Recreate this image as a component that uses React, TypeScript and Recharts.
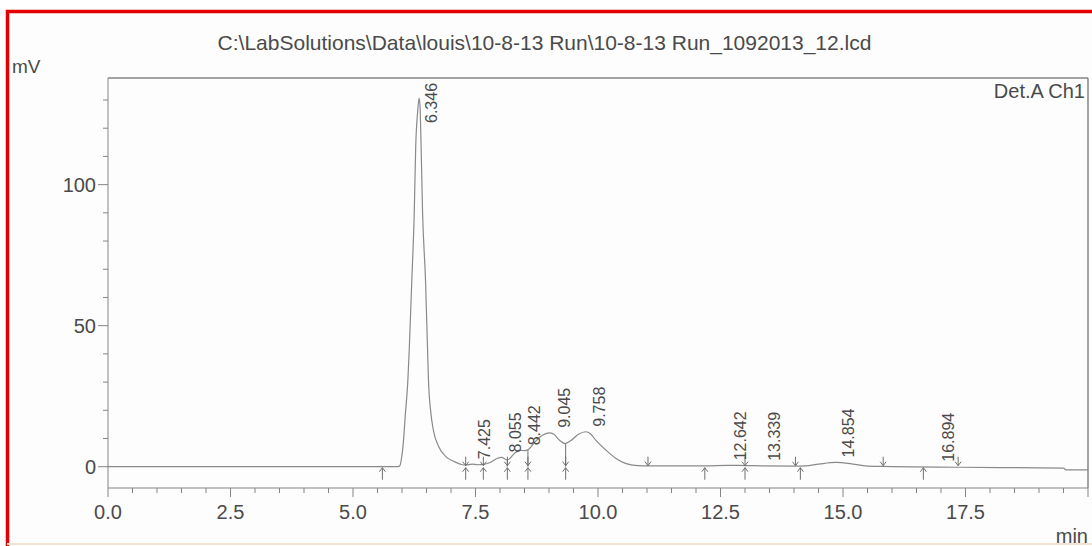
import { ComposedChart, Line, Scatter, XAxis, YAxis, ReferenceLine } from "recharts";

const TITLE = "C:\\LabSolutions\\Data\\louis\\10-8-13 Run\\10-8-13 Run_1092013_12.lcd";

// detector trace (min, mV)
const sigTimes = [
  0, 5.92, 5.96, 5.99, 6.02, 6.07, 6.12, 6.15, 6.2, 6.25, 6.28, 6.32, 6.35, 6.37, 6.39, 6.42, 6.48, 6.52,
  6.54, 6.59, 6.64, 6.75, 6.9, 7.07, 7.23, 7.3, 7.43, 7.55, 7.66, 7.8, 7.95, 8.03, 8.15, 8.3, 8.42, 8.5,
  8.57, 8.7, 8.85, 9.0, 9.1, 9.22, 9.33, 9.45, 9.6, 9.75, 9.85, 9.95, 10.16, 10.36, 10.56, 10.83, 11.0,
  12.2, 12.64, 13.0, 13.34, 14.0, 14.23, 14.5, 14.85, 15.15, 15.45, 15.8, 17.4, 19.5, 19.55, 20,
];
const sigValues = [
  0, 0, 0.5, 3.0, 7.1, 18.9, 30.7, 42.5, 66, 90, 113.5, 126, 130.7, 127, 113.5, 90, 66, 42.5,
  30.7, 18.9, 13.0, 7.1, 3.5, 1.8, 0.7, 0.6, 0.9, 0.7, 0.8, 1.5, 3.0, 3.3, 2.4, 4.8, 5.8, 5.7,
  6.0, 8.5, 11.0, 12.0, 11.5, 9.3, 8.2, 9.3, 11.5, 12.4, 11.6, 9.5, 5.9, 3.0, 1.2, 0.4, 0.3,
  0.3, 0.5, 0.4, 0.3, 0.2, 0.3, 0.9, 1.5, 1.1, 0.3, 0.1, -0.2, -0.5, -1.1, -1.1,
];

// retention time labels
const peakTimes = [6.346, 7.425, 8.055, 8.442, 9.045, 9.758, 12.642, 13.339, 14.854, 16.894];
const peakLevels = [130.7, 0.9, 3.3, 5.8, 12.0, 12.4, 0.5, 0.3, 1.5, 0];

// integration start/end marks on the baseline
const markTimes = [5.6, 7.3, 7.66, 8.15, 8.57, 9.34, 11.02, 12.18, 13.0, 14.03, 14.13, 15.82, 16.64, 17.35];
const markKinds = ["up", "both", "both", "both", "both", "both", "down", "up", "both", "down", "up", "down", "up", "down"];
const markLevels = [0, 0.6, 0.8, 2.4, 6.0, 8.2, 0.3, 0.3, 0.4, 0.2, 0.2, 0.1, 0, 0];

const xMajor = [0, 2.5, 5, 7.5, 10, 12.5, 15, 17.5];
const yMajor = [0, 50, 100];

const X_MAX = 20;
const Y_MIN = -7.55;
const Y_MAX = 137.8;
const PLOT_TOP = 78;

const xTicks = Array.from({ length: 41 }, (_, i) => i * 0.5);
const yTicks = Array.from({ length: 14 }, (_, i) => i * 10);

const signal = sigTimes.map((t, i) => ({ t, v: sigValues[i] }));
const peaks = peakTimes.map((t, i) => ({ t, v: peakLevels[i], label: t.toFixed(3) }));
const marks = markTimes.map((t, i) => ({ t, v: 0, kind: markKinds[i], level: markLevels[i] }));

const FONT = "'Liberation Sans', Arial, sans-serif";
const TEXT = "#4a4a4a";
const AXIS = "#858585";
const TRACE = "#8a8a8a";

function XTick(props: any) {
  const { x, y, payload } = props;
  const v = payload.value;
  const major = xMajor.includes(v) || v === X_MAX;
  return (
    <g>
      <line x1={x} x2={x} y1={y} y2={y + (major ? 9 : 5)} stroke={AXIS} />
      {xMajor.includes(v) ? (
        <text x={x} y={y + 31} textAnchor="middle" fontSize={20} fontFamily={FONT} fill={TEXT}>
          {v.toFixed(1)}
        </text>
      ) : null}
    </g>
  );
}

function YTick(props: any) {
  const { x, y, payload } = props;
  const v = payload.value;
  const major = yMajor.includes(v);
  return (
    <g>
      <line x1={x - (major ? 10 : 5)} x2={x} y1={y} y2={y} stroke={AXIS} />
      {major ? (
        <text x={x - 12} y={y + 7} textAnchor="end" fontSize={20} fontFamily={FONT} fill={TEXT}>
          {v}
        </text>
      ) : null}
    </g>
  );
}

function PeakLabel(props: any) {
  const { cx, cy, payload } = props;
  if (cx == null || cy == null) return <g />;
  const len = 40;
  const bottom = Math.max(cy - 5, PLOT_TOP + 5 + len);
  const x = cx + 13;
  return (
    <text
      x={x}
      y={bottom}
      transform={`rotate(-90 ${x} ${bottom})`}
      dominantBaseline="central"
      fontSize={16}
      fontFamily={FONT}
      fill={TEXT}
    >
      {payload.label}
    </text>
  );
}

function Mark(props: any) {
  const { cx, cy, payload } = props;
  if (cx == null || cy == null) return <g />;
  const up = payload.kind === "up" || payload.kind === "both";
  const down = payload.kind === "down" || payload.kind === "both";
  return (
    <g stroke="#6f6f6f" strokeWidth={1} fill="none">
      {up ? (
        <path d={`M${cx} ${cy + 13} V${cy + 1} M${cx - 3} ${cy + 5} L${cx} ${cy + 1} L${cx + 3} ${cy + 5}`} />
      ) : null}
      {down ? (
        <path d={`M${cx} ${cy - 10} V${cy - 1} M${cx - 3} ${cy - 5} L${cx} ${cy - 1} L${cx + 3} ${cy - 5}`} />
      ) : null}
    </g>
  );
}

export default function App() {
  return (
    <div style={{ position: "absolute", left: 0, top: 0, width: 1092, height: 546, background: "#fff", overflow: "hidden" }}>
      <div style={{ position: "absolute", left: 7, top: 11, width: 1085, height: 540, background: "#fdfdfd" }} />
      <div style={{ position: "absolute", left: 0, top: 0 }}>
        <ComposedChart
          width={1092}
          height={546}
          data={signal}
          margin={{ top: PLOT_TOP, right: 4, bottom: 18, left: 48 }}
        >
          <XAxis
            dataKey="t"
            type="number"
            domain={[0, X_MAX]}
            ticks={xTicks}
            interval={0}
            tickSize={0}
            tickMargin={0}
            tickLine={false}
            tick={<XTick />}
            height={40}
            stroke={AXIS}
            allowDataOverflow
          />
          <YAxis
            type="number"
            domain={[Y_MIN, Y_MAX]}
            ticks={yTicks}
            interval={0}
            tickSize={0}
            tickMargin={0}
            tickLine={false}
            tick={<YTick />}
            width={60}
            stroke={AXIS}
            allowDataOverflow
          />
          <ReferenceLine y={Y_MAX} stroke={AXIS} strokeWidth={1.5} />
          <ReferenceLine x={X_MAX} stroke={AXIS} strokeWidth={1.5} />
          {marks
            .filter((m) => m.kind === "both" && m.level > 1)
            .map((m) => (
              <ReferenceLine
                key={m.t}
                segment={[
                  { x: m.t, y: m.level },
                  { x: m.t, y: 0 },
                ]}
                stroke="#6f6f6f"
              />
            ))}
          <Line
            dataKey="v"
            type="monotone"
            stroke={TRACE}
            strokeWidth={1.2}
            dot={false}
            activeDot={false}
            isAnimationActive={false}
          />
          <Scatter data={marks} dataKey="v" shape={<Mark />} isAnimationActive={false} />
          <Scatter data={peaks} dataKey="v" shape={<PeakLabel />} isAnimationActive={false} />
        </ComposedChart>
      </div>
      <svg width={1092} height={546} style={{ position: "absolute", left: 0, top: 0, pointerEvents: "none" }}>
        <path d="M7.5 560 V11.5 H1092" stroke="#e30000" strokeWidth={3.5} fill="none" />
        <line x1={7} x2={1092} y1={544} y2={544} stroke="#f7e2d2" strokeWidth={2} />
        <text x={544.5} y={50} textAnchor="middle" fontSize={21} fontFamily={FONT} fill={TEXT}>
          {TITLE}
        </text>
        <text x={12} y={73} fontSize={19} fontFamily={FONT} fill={TEXT}>
          mV
        </text>
        <text x={1085} y={98} textAnchor="end" fontSize={20} fontFamily={FONT} fill={TEXT}>
          Det.A Ch1
        </text>
        <text x={1088} y={543} textAnchor="end" fontSize={20} fontFamily={FONT} fill={TEXT}>
          min
        </text>
      </svg>
    </div>
  );
}
